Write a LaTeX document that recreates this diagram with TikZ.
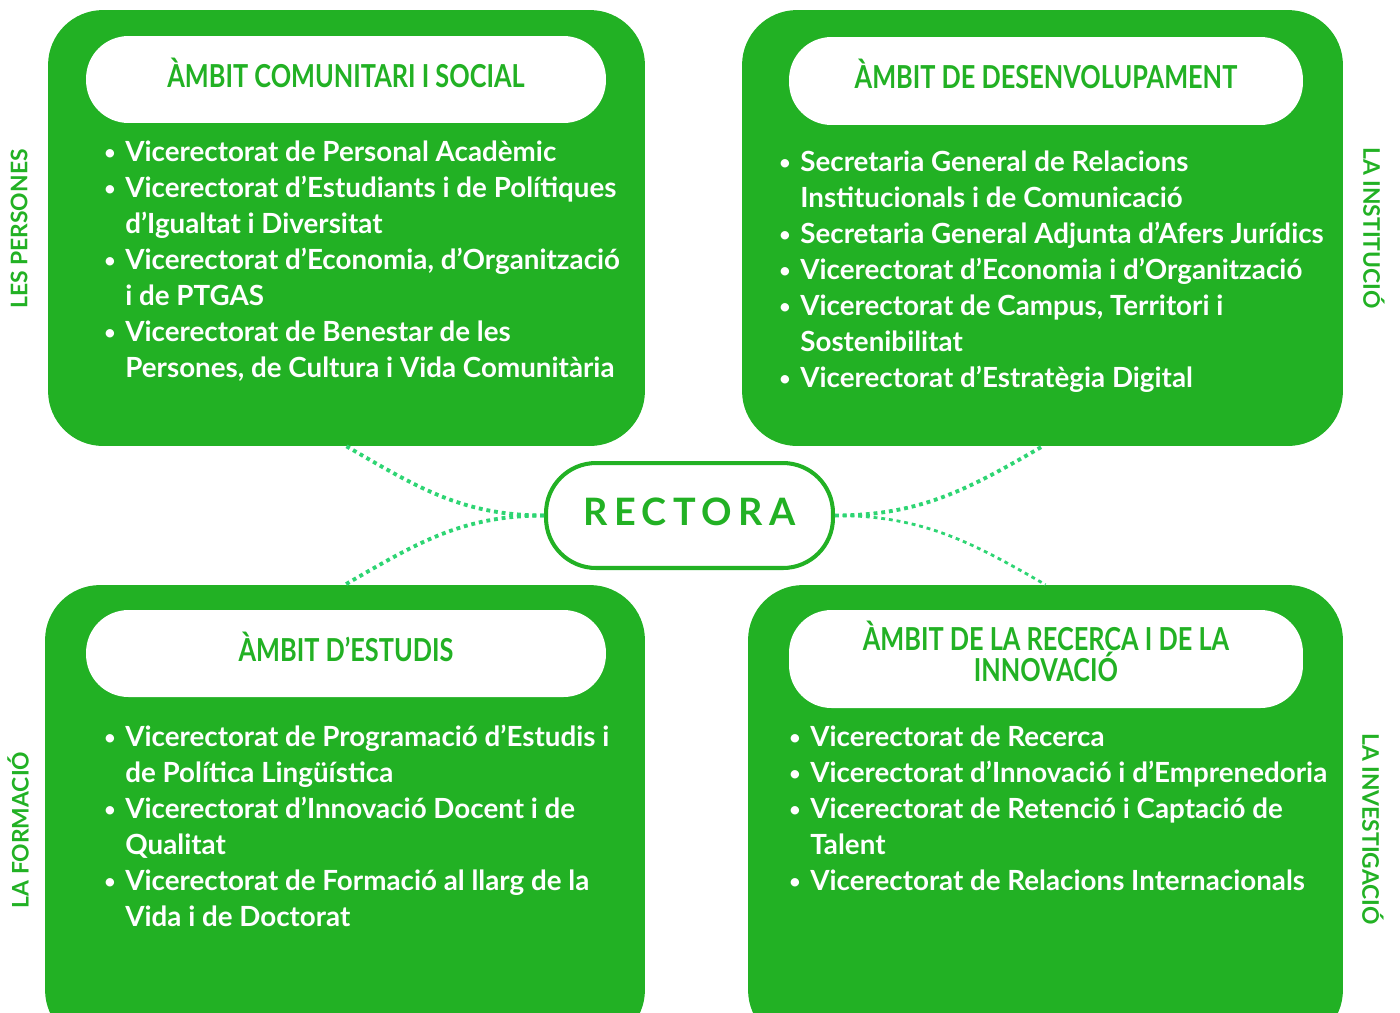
\documentclass[tikz,border=0pt]{standalone}
\usepackage{fontspec}
\setmainfont{Lato}
\newfontfamily\hdfont{Lato}[FakeStretch=0.8]
\definecolor{ambitgreen}{HTML}{22B124}
\definecolor{dotgreen}{HTML}{2ED573}
\newcommand{\blt}{\strut\makebox[0.42cm][l]{\raisebox{0.04cm}{\fontsize{11}{11}\selectfont\textbullet}}}
\newcommand{\cnt}{\strut\hspace*{0.42cm}}
\newcommand{\amunt}[1]{\rule[-#1]{0pt}{#1}}
\begin{document}
\begin{tikzpicture}[x=0.02cm, y=-0.02cm,
  ambit/.style={fill=ambitgreen, rounded corners=1.1cm, inner sep=0pt},
  capsule/.style={fill=white, rounded corners=0.85cm, inner sep=0pt, text=ambitgreen, align=center, font=\hdfont\bfseries\fontsize{18}{17.6}\selectfont},
  llista/.style={anchor=north west, inner sep=0pt, text=white, align=left, font=\bfseries\fontsize{15.8}{20.5}\selectfont},
  eix/.style={text=ambitgreen, inner sep=0pt, font=\bfseries\fontsize{13}{13}\selectfont},
  enllac/.style={dotgreen, line width=2.2pt, dash pattern=on 2.2pt off 2.2pt}]
\useasboundingbox (0,0) rectangle (1400,1012);

% quatre ambits
\node[ambit, minimum width=11.94cm, minimum height=8.72cm] (tl) at (346.5,228) {};
\node[ambit, minimum width=12.02cm, minimum height=8.72cm] (tr) at (1042.5,228) {};
\node[ambit, minimum width=12cm, minimum height=9.2cm] (bl) at (345,815) {};
\node[ambit, minimum width=11.9cm, minimum height=9.2cm] (br) at (1045.5,815) {};

\node[capsule, minimum width=10.4cm, minimum height=1.74cm] (tlcap) at (346,79.5) {ÀMBIT COMUNITARI I SOCIAL\amunt{0.28cm}};
\node[capsule, minimum width=10.28cm, minimum height=1.76cm] (trcap) at (1046,81) {ÀMBIT DE DESENVOLUPAMENT\amunt{0.28cm}};
\node[capsule, minimum width=10.4cm, minimum height=1.74cm] (blcap) at (346,653.5) {ÀMBIT D’ESTUDIS\amunt{0.28cm}};
\node[capsule, minimum width=10.28cm, minimum height=1.96cm] (brcap) at (1046,659) {ÀMBIT DE LA RECERCA I DE LA\\INNOVACIÓ\amunt{0.3cm}};

\node[llista] (tllist) at (104,136) {\blt Vicerectorat de Personal Acadèmic\\
  \blt Vicerectorat d’Estudiants i de Polítiques\\
  \cnt d’Igualtat i Diversitat\\
  \blt Vicerectorat d’Economia, d’Organització\\
  \cnt i de PTGAS\\
  \blt Vicerectorat de Benestar de les\\
  \cnt Persones, de Cultura i Vida Comunitària};
\node[llista] (trlist) at (779,146) {\blt Secretaria General de Relacions\\
  \cnt Institucionals i de Comunicació\\
  \blt Secretaria General Adjunta d’Afers Jurídics\\
  \blt Vicerectorat d’Economia i d’Organització\\
  \blt Vicerectorat de Campus, Territori i\\
  \cnt Sostenibilitat\\
  \blt Vicerectorat d’Estratègia Digital};
\node[llista] (bllist) at (104,721) {\blt Vicerectorat de Programació d’Estudis i\\
  \cnt de Política Lingüística\\
  \blt Vicerectorat d’Innovació Docent i de\\
  \cnt Qualitat\\
  \blt Vicerectorat de Formació al llarg de la\\
  \cnt Vida i de Doctorat};
\node[llista] (brlist) at (789,721) {\blt Vicerectorat de Recerca\\
  \blt Vicerectorat d’Innovació i d’Emprenedoria\\
  \blt Vicerectorat de Retenció i Captació de\\
  \cnt Talent\\
  \blt Vicerectorat de Relacions Internacionals};

% etiquetes laterals
\node[eix, rotate=90] (persones) at (19,229) {LES PERSONES};
\node[eix, rotate=90] (formacio) at (18,830) {LA FORMACIÓ};
\node[eix, rotate=-90] (institucio) at (1374,228) {LA INSTITUCIÓ};
\node[eix, rotate=-90] (investigacio) at (1373,829) {LA INVESTIGACIÓ};

% rectora
\node[draw=ambitgreen, line width=2.3pt, fill=white, rounded corners=1cm, minimum width=5.74cm, minimum height=2.1cm, text=ambitgreen,
  font=\bfseries\fontsize{21.5}{21.5}\selectfont\addfontfeature{LetterSpace=17}] (rectora) at (689.5,515.5) {RECTORA\amunt{0.16cm}};

\draw[enllac] (rectora.west) to[out=180, in=-30] (tl.south);
\draw[enllac] (rectora.west) to[out=180, in=30] (bl.north);
\draw[enllac] (rectora.east) to[out=0, in=-150] (tr.south);
\draw[enllac, line width=1.6pt] (rectora.east) to[out=0, in=150] (br.north);
\end{tikzpicture}
\end{document}
